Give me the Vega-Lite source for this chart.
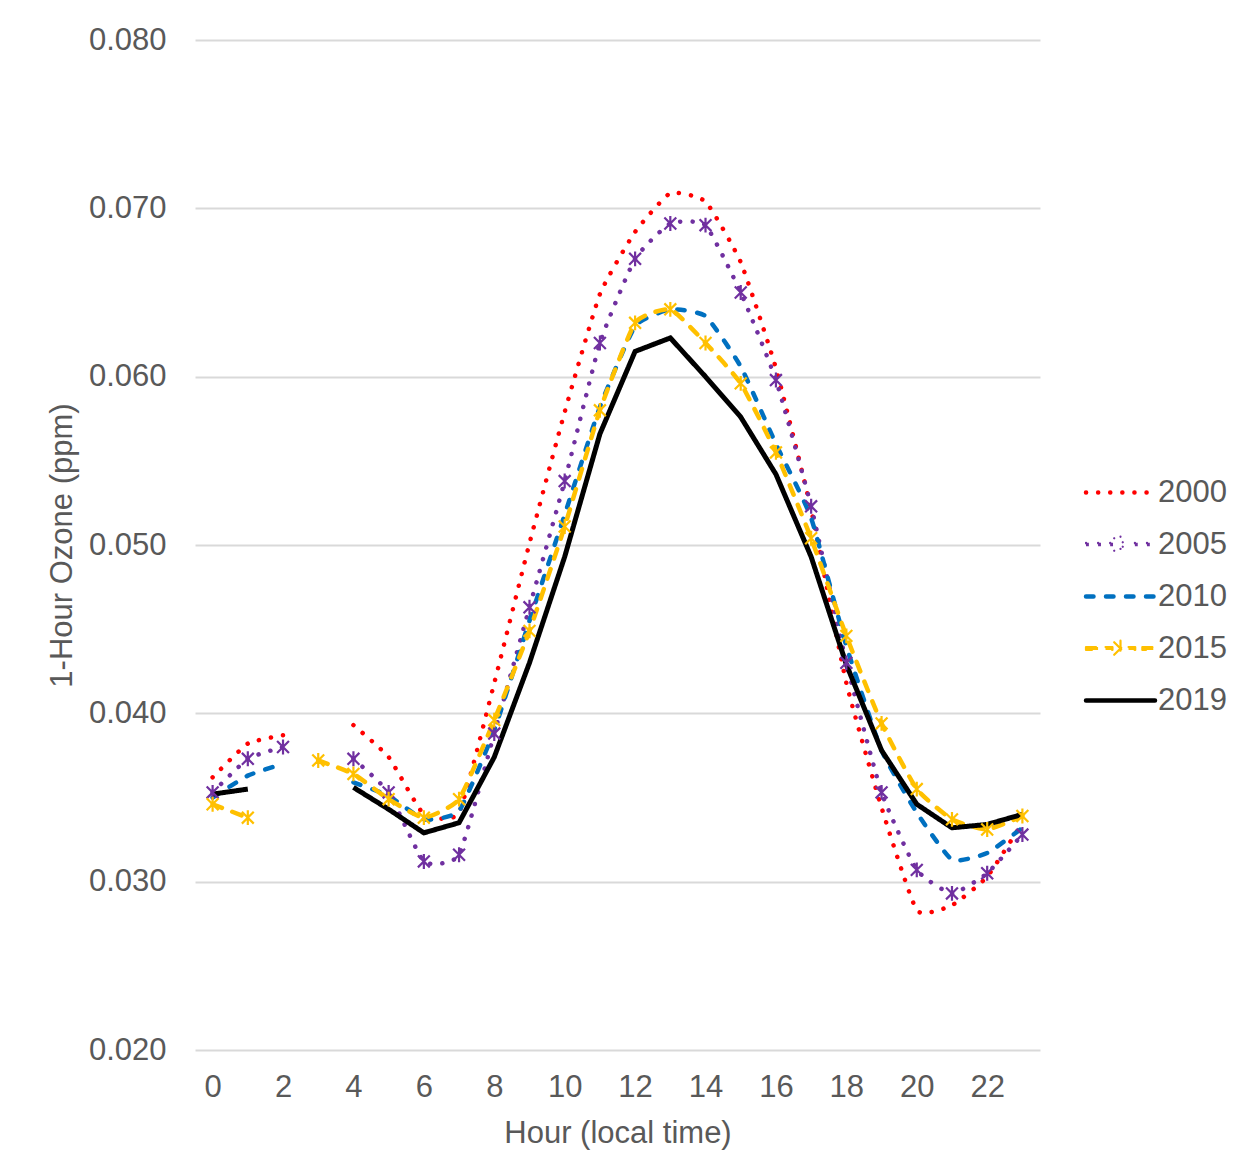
{
  "$schema": "https://vega.github.io/schema/vega-lite/v6.json",
  "width": 845,
  "height": 1010,
  "autosize": {"type": "none"},
  "padding": {"left": 195, "top": 40, "right": 217, "bottom": 125},
  "background": "white",
  "config": {
    "font": "Liberation Sans",
    "view": {"stroke": null},
    "axis": {
      "labelFont": "Liberation Sans",
      "titleFont": "Liberation Sans",
      "labelFontSize": 31,
      "titleFontSize": 31,
      "labelColor": "#595959",
      "titleColor": "#595959",
      "titleFontWeight": "normal",
      "ticks": false,
      "domain": false
    },
    "legend": {
      "labelFont": "Liberation Sans",
      "labelFontSize": 31,
      "labelColor": "#595959"
    }
  },
  "data": {
    "values": [
      {"hour": 0, "year": "2000", "ozone": 0.0362}, {"hour": 1, "year": "2000", "ozone": 0.0382}, {"hour": 2, "year": "2000", "ozone": 0.0387}, {"hour": 3, "year": "2000", "ozone": null},
      {"hour": 4, "year": "2000", "ozone": 0.0393}, {"hour": 5, "year": "2000", "ozone": 0.0374}, {"hour": 6, "year": "2000", "ozone": 0.0340}, {"hour": 7, "year": "2000", "ozone": 0.0341},
      {"hour": 8, "year": "2000", "ozone": 0.0418}, {"hour": 9, "year": "2000", "ozone": 0.0501}, {"hour": 10, "year": "2000", "ozone": 0.0579}, {"hour": 11, "year": "2000", "ozone": 0.0649},
      {"hour": 12, "year": "2000", "ozone": 0.0686}, {"hour": 13, "year": "2000", "ozone": 0.0709}, {"hour": 14, "year": "2000", "ozone": 0.0704}, {"hour": 15, "year": "2000", "ozone": 0.0668},
      {"hour": 16, "year": "2000", "ozone": 0.0605}, {"hour": 17, "year": "2000", "ozone": 0.0521}, {"hour": 18, "year": "2000", "ozone": 0.0418}, {"hour": 19, "year": "2000", "ozone": 0.0344},
      {"hour": 20, "year": "2000", "ozone": 0.0283}, {"hour": 21, "year": "2000", "ozone": 0.0286}, {"hour": 22, "year": "2000", "ozone": 0.0303}, {"hour": 23, "year": "2000", "ozone": 0.0335},

      {"hour": 0, "year": "2005", "ozone": 0.0353}, {"hour": 1, "year": "2005", "ozone": 0.0373}, {"hour": 2, "year": "2005", "ozone": 0.0380}, {"hour": 3, "year": "2005", "ozone": null},
      {"hour": 4, "year": "2005", "ozone": 0.0373}, {"hour": 5, "year": "2005", "ozone": 0.0353}, {"hour": 6, "year": "2005", "ozone": 0.0312}, {"hour": 7, "year": "2005", "ozone": 0.0316},
      {"hour": 8, "year": "2005", "ozone": 0.0388}, {"hour": 9, "year": "2005", "ozone": 0.0463}, {"hour": 10, "year": "2005", "ozone": 0.0538}, {"hour": 11, "year": "2005", "ozone": 0.0620},
      {"hour": 12, "year": "2005", "ozone": 0.0670}, {"hour": 13, "year": "2005", "ozone": 0.0691}, {"hour": 14, "year": "2005", "ozone": 0.0690}, {"hour": 15, "year": "2005", "ozone": 0.0650},
      {"hour": 16, "year": "2005", "ozone": 0.0598}, {"hour": 17, "year": "2005", "ozone": 0.0523}, {"hour": 18, "year": "2005", "ozone": 0.0430}, {"hour": 19, "year": "2005", "ozone": 0.0353},
      {"hour": 20, "year": "2005", "ozone": 0.0307}, {"hour": 21, "year": "2005", "ozone": 0.0293}, {"hour": 22, "year": "2005", "ozone": 0.0305}, {"hour": 23, "year": "2005", "ozone": 0.0328},

      {"hour": 0, "year": "2010", "ozone": 0.0350}, {"hour": 1, "year": "2010", "ozone": 0.0363}, {"hour": 2, "year": "2010", "ozone": 0.0370}, {"hour": 3, "year": "2010", "ozone": null},
      {"hour": 4, "year": "2010", "ozone": 0.0359}, {"hour": 5, "year": "2010", "ozone": 0.0351}, {"hour": 6, "year": "2010", "ozone": 0.0337}, {"hour": 7, "year": "2010", "ozone": 0.0342},
      {"hour": 8, "year": "2010", "ozone": 0.0390}, {"hour": 9, "year": "2010", "ozone": 0.0455}, {"hour": 10, "year": "2010", "ozone": 0.0518}, {"hour": 11, "year": "2010", "ozone": 0.0582},
      {"hour": 12, "year": "2010", "ozone": 0.0630}, {"hour": 13, "year": "2010", "ozone": 0.0640}, {"hour": 14, "year": "2010", "ozone": 0.0636}, {"hour": 15, "year": "2010", "ozone": 0.0606},
      {"hour": 16, "year": "2010", "ozone": 0.0560}, {"hour": 17, "year": "2010", "ozone": 0.0516}, {"hour": 18, "year": "2010", "ozone": 0.0440}, {"hour": 19, "year": "2010", "ozone": 0.0378},
      {"hour": 20, "year": "2010", "ozone": 0.0341}, {"hour": 21, "year": "2010", "ozone": 0.0313}, {"hour": 22, "year": "2010", "ozone": 0.0317}, {"hour": 23, "year": "2010", "ozone": 0.0332},

      {"hour": 0, "year": "2015", "ozone": 0.0346}, {"hour": 1, "year": "2015", "ozone": 0.0338}, {"hour": 2, "year": "2015", "ozone": null}, {"hour": 3, "year": "2015", "ozone": 0.0372},
      {"hour": 4, "year": "2015", "ozone": 0.0364}, {"hour": 5, "year": "2015", "ozone": 0.0349}, {"hour": 6, "year": "2015", "ozone": 0.0338}, {"hour": 7, "year": "2015", "ozone": 0.0349},
      {"hour": 8, "year": "2015", "ozone": 0.0396}, {"hour": 9, "year": "2015", "ozone": 0.0449}, {"hour": 10, "year": "2015", "ozone": 0.0511}, {"hour": 11, "year": "2015", "ozone": 0.0580},
      {"hour": 12, "year": "2015", "ozone": 0.0632}, {"hour": 13, "year": "2015", "ozone": 0.0640}, {"hour": 14, "year": "2015", "ozone": 0.0620}, {"hour": 15, "year": "2015", "ozone": 0.0596},
      {"hour": 16, "year": "2015", "ozone": 0.0555}, {"hour": 17, "year": "2015", "ozone": 0.0504}, {"hour": 18, "year": "2015", "ozone": 0.0446}, {"hour": 19, "year": "2015", "ozone": 0.0394},
      {"hour": 20, "year": "2015", "ozone": 0.0355}, {"hour": 21, "year": "2015", "ozone": 0.0337}, {"hour": 22, "year": "2015", "ozone": 0.0331}, {"hour": 23, "year": "2015", "ozone": 0.0339},

      {"hour": 0, "year": "2019", "ozone": 0.0352}, {"hour": 1, "year": "2019", "ozone": 0.0355}, {"hour": 2, "year": "2019", "ozone": null}, {"hour": 3, "year": "2019", "ozone": null},
      {"hour": 4, "year": "2019", "ozone": 0.0356}, {"hour": 5, "year": "2019", "ozone": 0.0343}, {"hour": 6, "year": "2019", "ozone": 0.0329}, {"hour": 7, "year": "2019", "ozone": 0.0335},
      {"hour": 8, "year": "2019", "ozone": 0.0374}, {"hour": 9, "year": "2019", "ozone": 0.0430}, {"hour": 10, "year": "2019", "ozone": 0.0493}, {"hour": 11, "year": "2019", "ozone": 0.0566},
      {"hour": 12, "year": "2019", "ozone": 0.0615}, {"hour": 13, "year": "2019", "ozone": 0.0623}, {"hour": 14, "year": "2019", "ozone": 0.0600}, {"hour": 15, "year": "2019", "ozone": 0.0576},
      {"hour": 16, "year": "2019", "ozone": 0.0542}, {"hour": 17, "year": "2019", "ozone": 0.0493}, {"hour": 18, "year": "2019", "ozone": 0.0429}, {"hour": 19, "year": "2019", "ozone": 0.0378},
      {"hour": 20, "year": "2019", "ozone": 0.0346}, {"hour": 21, "year": "2019", "ozone": 0.0332}, {"hour": 22, "year": "2019", "ozone": 0.0334}, {"hour": 23, "year": "2019", "ozone": 0.0340}
    ]
  },
  "encoding": {
    "x": {
      "field": "hour", "type": "quantitative",
      "scale": {"domain": [-0.5, 23.5], "nice": false, "zero": false},
      "axis": {"values": [0, 2, 4, 6, 8, 10, 12, 14, 16, 18, 20, 22], "grid": false, "labelPadding": 22, "title": "Hour (local time)", "titlePadding": 16}
    },
    "y": {
      "field": "ozone", "type": "quantitative",
      "scale": {"domain": [0.02, 0.08], "nice": false, "zero": false},
      "axis": {"values": [0.02, 0.03, 0.04, 0.05, 0.06, 0.07, 0.08], "format": ".3f", "grid": true, "gridColor": "#D9D9D9", "gridWidth": 1.8, "labelPadding": 29, "title": "1-Hour Ozone (ppm)", "titlePadding": 10}
    }
  },
  "layer": [
    {
      "transform": [{"filter": "datum.year != '2019'"}],
      "mark": {"type": "line", "interpolate": "cardinal", "tension": 0.55, "strokeWidth": 4.5, "strokeCap": "round", "invalid": "break-paths-show-domains"},
      "encoding": {
        "color": {
          "field": "year", "type": "nominal",
          "scale": {"domain": ["2000", "2005", "2010", "2015", "2019"], "range": ["#FF0000", "#7030A0", "#0070C0", "#FFC000", "#000000"]},
          "legend": {
            "orient": "none", "legendX": 910, "legendY": 437, "title": null,
            "symbolType": "M-3,0L3,0", "symbolSize": 529, "symbolStrokeWidth": 4.5, "labelOffset": 22, "rowPadding": 20,
            "encode": {"symbols": {"update": {
              "shape": {"signal": "datum.value == '2005' ? 'M-3,-0.15L-2.75,-0.15L-2.75,0.15L-3,0.15Z M-1.95,-0.15L-1.7,-0.15L-1.7,0.15L-1.95,0.15Z M-0.9,-0.15L-0.65,-0.15L-0.65,0.15L-0.9,0.15Z M1.25,-0.15L1.5,-0.15L1.5,0.15L1.25,0.15Z M2.3,-0.15L2.55,-0.15L2.55,0.15L2.3,0.15Z M-0.55,-0.55L0.55,0.55M-0.55,0.55L0.55,-0.55M0,-0.68L0,0.68' : datum.value == '2015' ? 'M-3,-0.12L-1.95,-0.12L-1.95,0.12L-3,0.12Z M-1.3,-0.12L-0.7,-0.12L-0.7,0.12L-1.3,0.12Z M0.7,-0.12L1.28,-0.12L1.28,0.12L0.7,0.12Z M1.9,-0.12L2.85,-0.12L2.85,0.12L1.9,0.12Z M-0.55,-0.55L0.55,0.55M-0.55,0.55L0.55,-0.55M0,-0.68L0,0.68' : 'M-3,0L3,0'"},
              "strokeDash": {"signal": "datum.value == '2000' ? [0.1, 12] : datum.value == '2010' ? [7.5, 12.5] : [1, 0]"},
              "strokeWidth": {"signal": "(datum.value == '2005' || datum.value == '2015') ? 2.2 : 4.5"},
              "fill": {"signal": "datum.value == '2005' ? '#7030A0' : datum.value == '2015' ? '#FFC000' : 'transparent'"},
              "strokeCap": {"value": "round"},
              "strokeJoin": {"value": "round"}
            }}}
          }
        },
        "strokeDash": {
          "field": "year", "type": "nominal",
          "scale": {"domain": ["2000", "2005", "2010", "2015", "2019"], "range": [[0.1, 12], [0.1, 12], [7.5, 12.5], [10, 11], [1, 0]]},
          "legend": null
        }
      }
    },
    {
      "transform": [{"filter": "datum.year == '2019'"}],
      "mark": {"type": "line", "strokeWidth": 5, "invalid": "break-paths-show-domains"},
      "encoding": {
        "color": {"field": "year", "type": "nominal"},
        "strokeDash": {"field": "year", "type": "nominal", "legend": null}
      }
    },
    {
      "transform": [{"filter": "datum.year == '2005' || datum.year == '2015'"}],
      "mark": {"type": "point", "shape": "M-0.8,-0.8L0.8,0.8M-0.8,0.8L0.8,-0.8M0,-1L0,1", "filled": false, "size": 220, "strokeWidth": 2.2, "opacity": 1},
      "encoding": {
        "color": {"field": "year", "type": "nominal", "legend": null}
      }
    }
  ]
}
